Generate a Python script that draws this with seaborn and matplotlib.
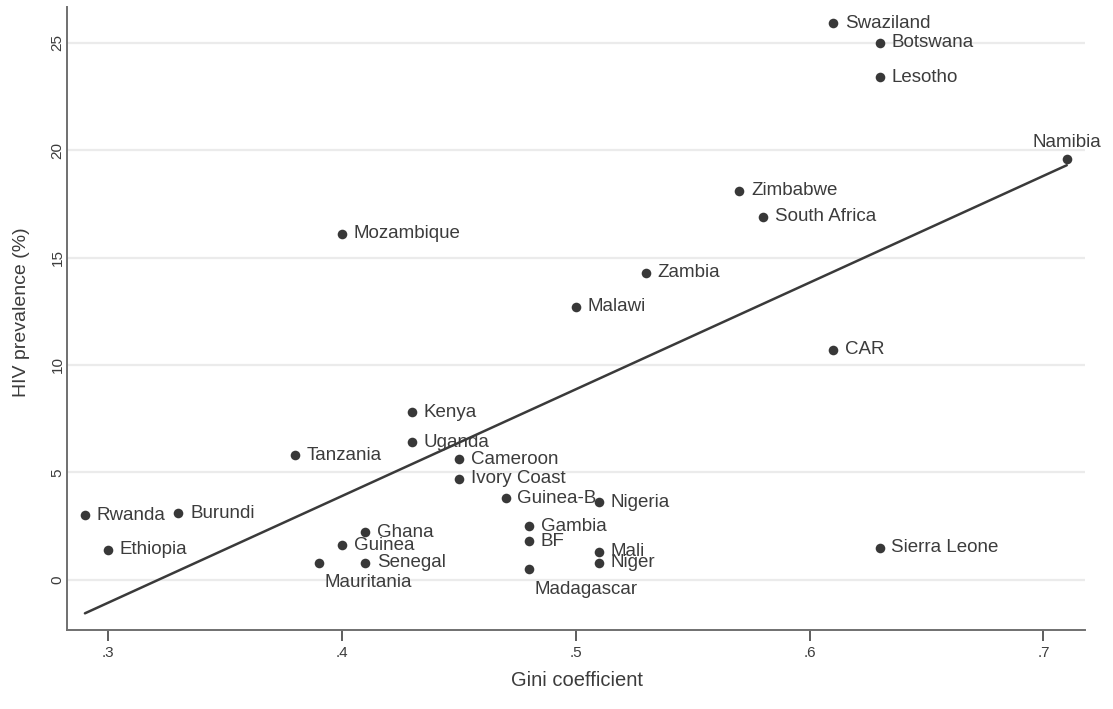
import matplotlib
matplotlib.use("Agg")
import matplotlib.pyplot as plt
import numpy as np
import pandas as pd
import seaborn as sns

# ---- data ----
countries = ["Swaziland", "Botswana", "Lesotho", "Namibia", "Zimbabwe", "South Africa",
             "Mozambique", "Zambia", "Malawi", "CAR", "Kenya", "Uganda", "Tanzania",
             "Cameroon", "Ivory Coast", "Guinea-B", "Nigeria", "Rwanda", "Burundi",
             "Gambia", "BF", "Ghana", "Guinea", "Ethiopia", "Mali", "Sierra Leone",
             "Senegal", "Niger", "Mauritania", "Madagascar"]
gini = [0.61, 0.63, 0.63, 0.71, 0.57, 0.58,
        0.40, 0.53, 0.50, 0.61, 0.43, 0.43, 0.38,
        0.45, 0.45, 0.47, 0.51, 0.29, 0.33,
        0.48, 0.48, 0.41, 0.40, 0.30, 0.51, 0.63,
        0.41, 0.51, 0.39, 0.48]
hiv = [25.9, 25.0, 23.4, 19.6, 18.1, 16.9,
       16.1, 14.3, 12.7, 10.7, 7.8, 6.4, 5.8,
       5.6, 4.7, 3.8, 3.6, 3.0, 3.1,
       2.5, 1.8, 2.2, 1.6, 1.4, 1.3, 1.5,
       0.8, 0.8, 0.8, 0.5]
x_ticks = [0.3, 0.4, 0.5, 0.6, 0.7]
x_ticklabels = [".3", ".4", ".5", ".6", ".7"]
y_ticks = [0, 5, 10, 15, 20, 25]
y_ticklabels = ["0", "5", "10", "15", "20", "25"]

# label placement exceptions (offsets in points, alignment)
label_above = ["Namibia"]
label_below = ["Mauritania", "Madagascar"]

df = pd.DataFrame({"country": countries, "gini": gini, "hiv": hiv})

sns.set_theme(style="white")
plt.rcParams["font.family"] = ["Liberation Sans", "DejaVu Sans"]

W, H = 1113, 709
fig = plt.figure(figsize=(W / 100, H / 100), dpi=100)
left, right, top, bottom = 66.7, 1085, 6.7, 630
ax = fig.add_axes([left / W, 1 - bottom / H, (right - left) / W, (bottom - top) / H])

dark = "#383838"
txt = "#3c3c3c"

sns.regplot(data=df, x="gini", y="hiv", ax=ax, ci=None, color=dark,
            scatter_kws=dict(s=48, linewidths=0, alpha=1, zorder=3),
            line_kws=dict(lw=1.8, color="#3a3a3a", zorder=2))

ax.set_xlim(0.2822, 0.7178)
ax.set_ylim(-2.34, 26.68)

ax.set_xticks(x_ticks)
ax.set_xticklabels(x_ticklabels)
ax.set_yticks(y_ticks)
ax.set_yticklabels(y_ticklabels, rotation=90, va="center")

ax.yaxis.grid(True, color="#ebebeb", lw=1.6)
ax.xaxis.grid(False)
ax.set_axisbelow(True)

for s in ["top", "right"]:
    ax.spines[s].set_visible(False)
for s in ["left", "bottom"]:
    ax.spines[s].set_color("#707070")
    ax.spines[s].set_linewidth(1.4)

ax.tick_params(axis="x", direction="out", length=7.7, width=1.3, color="#505050",
               pad=4, labelsize=11, labelcolor=txt, bottom=True)
ax.tick_params(axis="y", length=0, pad=1.5, labelsize=11, labelcolor=txt, left=True)

ax.set_xlabel("Gini coefficient", fontsize=14.5, color=txt)
ax.set_ylabel("HIV prevalence (%)", fontsize=14, color=txt)
ax.xaxis.set_label_coords((577 - left) / (right - left), -(681 - bottom) / (bottom - top))
ax.xaxis.label.set_verticalalignment("center")
ax.yaxis.set_label_coords((22 - left) / (right - left), (bottom - 312) / (bottom - top))
ax.yaxis.label.set_verticalalignment("center")

for c, xv, yv in zip(countries, gini, hiv):
    if c in label_above:
        off, ha = (0, 11.5), "center"
    elif c in label_below:
        off, ha = (4, -14.4), "left"
    else:
        off, ha = (8.4, 0), "left"
    ax.annotate(c, (xv, yv), xytext=off, textcoords="offset points",
                ha=ha, va="center", fontsize=13.5, color=txt, zorder=4)

fig.savefig("out.png", dpi=100)
